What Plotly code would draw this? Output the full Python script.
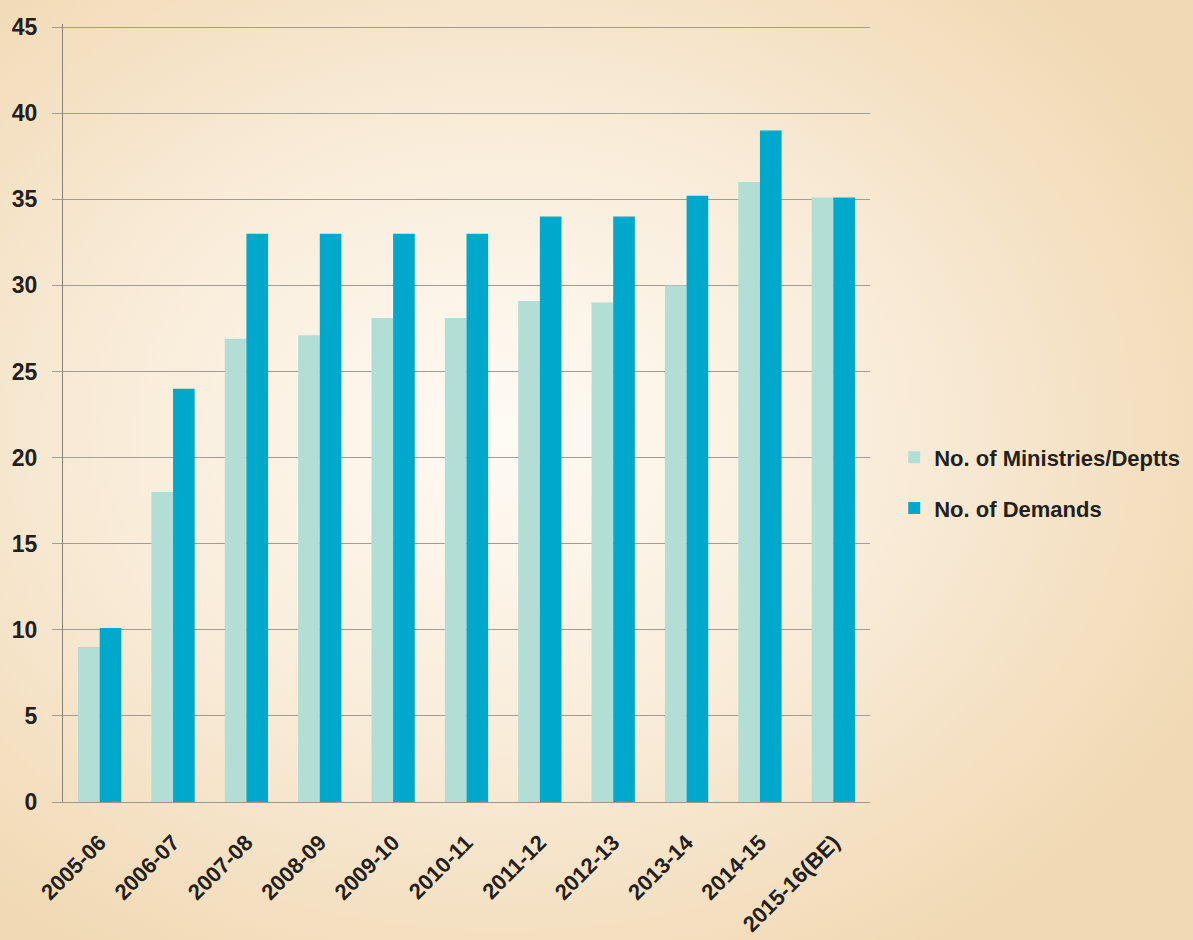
import base64
import plotly.graph_objects as go

categories = ["2005-06", "2006-07", "2007-08", "2008-09", "2009-10", "2010-11",
              "2011-12", "2012-13", "2013-14", "2014-15", "2015-16(BE)"]
ministries = [9, 18, 26.9, 27.1, 28.1, 28.1, 29.1, 29, 30, 36, 35.1]
demands = [10.1, 24, 33, 33, 33, 33, 34, 34, 35.2, 39, 35.1]
y_ticks = [0, 5, 10, 15, 20, 25, 30, 35, 40, 45]

W, H = 1193, 940
L, R, T, B = 63, 323, 24, 138
pw, ph = W - L - R, H - T - B

svg = f'''<svg xmlns="http://www.w3.org/2000/svg" width="{W}" height="{H}" viewBox="0 0 {W} {H}" preserveAspectRatio="none">
<defs><radialGradient id="g" cx="0.42" cy="0.46" r="0.65" gradientUnits="objectBoundingBox">
<stop offset="0" stop-color="#fefbf5"/>
<stop offset="0.5" stop-color="#f9ecd9"/>
<stop offset="1" stop-color="#f1d9b4"/>
</radialGradient></defs>
<rect width="{W}" height="{H}" fill="url(#g)"/></svg>'''
src = "data:image/svg+xml;base64," + base64.b64encode(svg.encode()).decode()

font = dict(family="Liberation Sans, Arial, sans-serif", color="#231f1c")

fig = go.Figure()
fig.add_trace(go.Bar(x=categories, y=ministries, name="No. of Ministries/Deptts",
                     marker=dict(color="#b2ded6", line=dict(width=0)),
                     legendgroup="a"))
fig.add_trace(go.Bar(x=categories, y=demands, name="No. of Demands",
                     marker=dict(color="#00a9cb", line=dict(width=0)),
                     legendgroup="b"))

fig.update_layout(
    width=W, height=H,
    margin=dict(l=L, r=R, t=T, b=B, autoexpand=False),
    paper_bgcolor="#f6e6cc",
    plot_bgcolor="rgba(0,0,0,0)",
    barmode="group", bargap=0.41, bargroupgap=0,
    images=[dict(source=src, xref="paper", yref="paper",
                 x=-L / pw, y=1 + T / ph, sizex=W / pw, sizey=H / ph,
                 xanchor="left", yanchor="top", sizing="stretch",
                 layer="below")],
    legend=dict(x=1.03, y=0.41, xanchor="left", yanchor="middle",
                font=dict(size=22, weight="bold", **font),
                bgcolor="rgba(0,0,0,0)", traceorder="grouped",
                tracegroupgap=19, itemwidth=30),
    xaxis=dict(type="category", tickangle=-45,
               tickfont=dict(size=22, weight="bold", **font),
               showgrid=False, showline=True, linecolor="#9e968c", linewidth=1,
               ticks="", ticklabelstandoff=18),
    yaxis=dict(range=[0, 45.18], tickvals=y_ticks, showgrid=True,
               gridcolor="#a39c92", gridwidth=1, zeroline=False,
               showline=True, linecolor="#8a8278", linewidth=1,
               ticks="outside", ticklen=10, tickcolor="#a39c92",
               ticklabelstandoff=10,
               tickfont=dict(size=23, weight="bold", **font)),
)

fig.write_html("out.html")
